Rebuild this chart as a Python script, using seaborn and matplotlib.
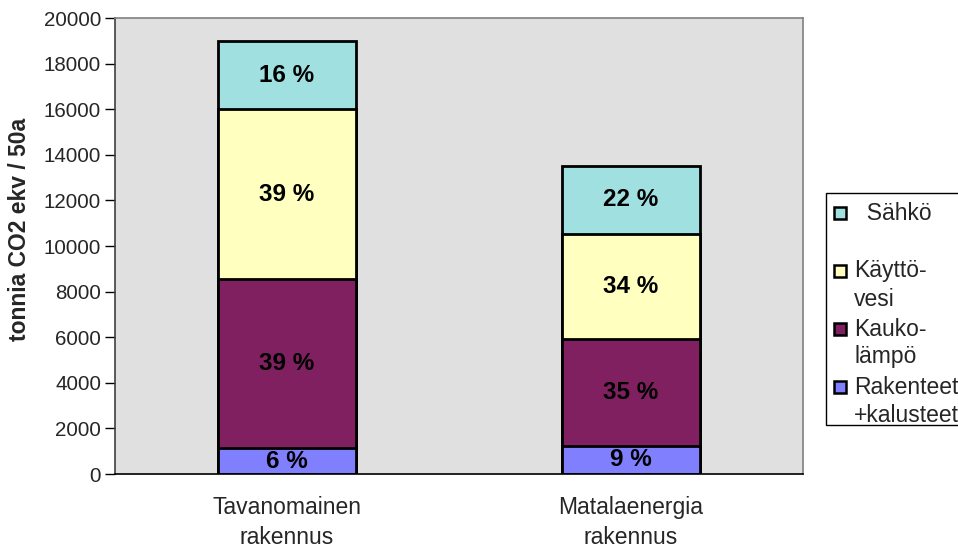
import matplotlib
matplotlib.use("Agg")
import matplotlib.pyplot as plt
import numpy as np
import pandas as pd
import seaborn as sns
from matplotlib.patches import Rectangle

# data
buildings = ["Tavanomainen\nrakennus", "Matalaenergia\nrakennus"]
components = ["Rakenteet\n+kalusteet", "Kauko-\nlämpö", "Käyttö-\nvesi", "  Sähkö"]
rakenteet = [1140, 1230]
kaukolampo = [7410, 4700]
kayttovesi = [7450, 4600]
sahko = [2990, 2980]
pct_labels = [["6 %", "39 %", "39 %", "16 %"], ["9 %", "35 %", "34 %", "22 %"]]
colors = ["#8080FF", "#802060", "#FFFFC0", "#A0E0E0"]

sns.set_style("white")
plt.rcParams["font.family"] = ["Liberation Sans", "DejaVu Sans"]

values = np.array([rakenteet, kaukolampo, kayttovesi, sahko])
cum = np.cumsum(values, axis=0)

W, H = 958, 547
fig = plt.figure(figsize=(W / 100, H / 100), dpi=100)
ax = fig.add_axes([115 / W, 1 - 474 / H, (803 - 115) / W, (474 - 18) / H])
ax.set_facecolor("#E0E0E0")

# draw the stack from the top total down so each layer covers the one below
for i in range(len(components) - 1, -1, -1):
    df = pd.DataFrame({"building": buildings, "value": cum[i]})
    sns.barplot(data=df, x="building", y="value", color=colors[i], width=0.4,
                edgecolor="black", linewidth=2, saturation=1, ax=ax)

for j in range(len(buildings)):
    for i in range(len(components)):
        bottom = cum[i - 1][j] if i > 0 else 0
        mid = bottom + values[i][j] / 2
        ax.text(j, mid, pct_labels[j][i], ha="center", va="center",
                fontsize=17.5, fontweight="bold", color="black")

ax.set_ylim(0, 20000)
ax.set_xlim(-0.5, 1.5)
ax.set_yticks(np.arange(0, 20001, 2000))
ax.set_xlabel("")
ax.set_ylabel("")
fig.text(20 / W, 1 - 229 / H, "tonnia CO2 ekv / 50a", rotation=90,
         ha="center", va="center", fontsize=16.5, fontweight="bold")
ax.tick_params(axis="y", direction="out", length=7, width=1, color="black",
               labelsize=14.8, left=True, pad=3)
ax.tick_params(axis="x", which="major", length=0, labelsize=16.5, pad=16)
for lbl in ax.get_xticklabels():
    lbl.set_linespacing(1.35)
ax.set_xticks([-0.5, 0.5, 1.5], minor=True)
ax.tick_params(axis="x", which="minor", direction="inout", length=12, width=1, color="black")

for side in ["top", "right"]:
    ax.spines[side].set_visible(True)
    ax.spines[side].set_color("#808080")
    ax.spines[side].set_linewidth(1.2)
ax.spines["left"].set_color("#404040")
ax.spines["left"].set_linewidth(1.2)
ax.spines["bottom"].set_color("black")
ax.spines["bottom"].set_linewidth(1.2)

# legend box drawn by hand: the marker sits on the first text line, as in the source
fig.add_artist(Rectangle((826 / W, 1 - 425 / H), 150 / W, 232 / H,
                         transform=fig.transFigure, facecolor="white",
                         edgecolor="black", linewidth=1))
entry_y = [213, 271, 329, 387]
for k, i in enumerate(range(len(components) - 1, -1, -1)):
    y0 = entry_y[k]
    fig.add_artist(Rectangle((834 / W, 1 - (y0 + 6) / H), 12 / W, 12 / H,
                             transform=fig.transFigure, facecolor=colors[i],
                             edgecolor="black", linewidth=1.8))
    for n, line in enumerate(components[i].split("\n")):
        fig.text(854 / W, 1 - (y0 + n * 28) / H, line, ha="left", va="center",
                 fontsize=16.5)

fig.savefig("out.png", dpi=100)
